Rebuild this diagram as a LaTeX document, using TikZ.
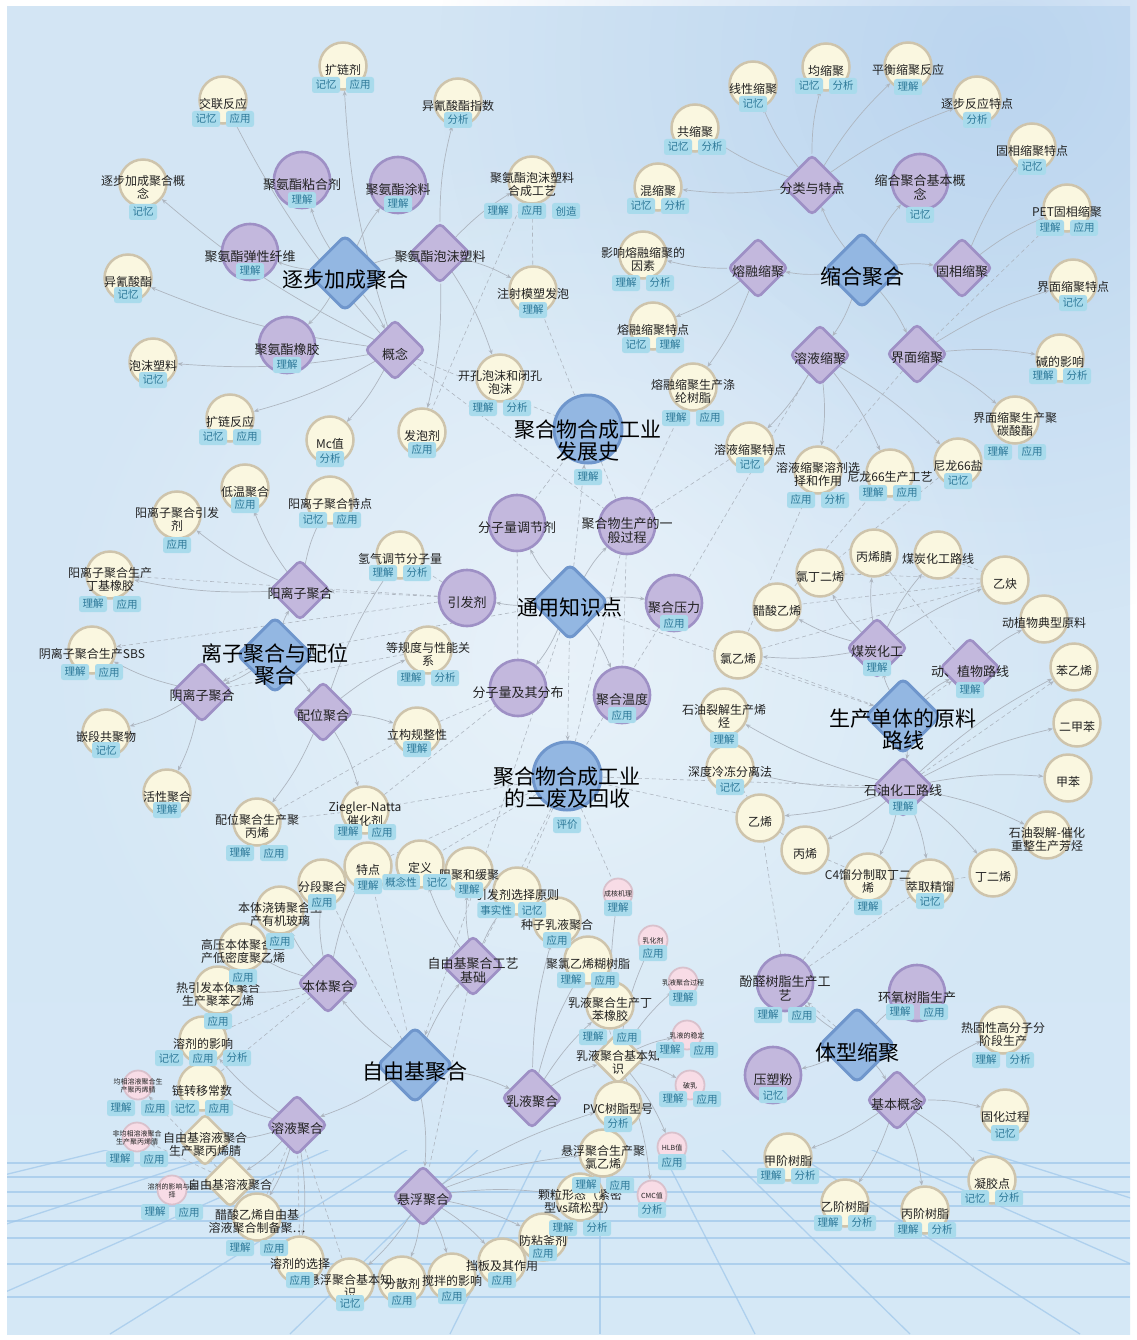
\documentclass[tikz,border=0pt]{standalone}
\usepackage{fontspec}
\newfontfamily\cjk{Noto Sans CJK SC}
\usetikzlibrary{calc, positioning}
\usetikzlibrary{arrows.meta}
\usetikzlibrary{shapes.geometric}
\usetikzlibrary{fadings}

\definecolor{leafcol}{HTML}{FAF7E0}
\definecolor{leafrim}{HTML}{CEC4AC}
\definecolor{purcol}{HTML}{C3B8DD}
\definecolor{purrim}{HTML}{9E90C5}
\definecolor{bluecol}{HTML}{93B7E2}
\definecolor{bluerim}{HTML}{6F96CC}
\definecolor{pinkcol}{HTML}{F8DCE6}
\definecolor{pinkrim}{HTML}{D9C1CC}
\definecolor{tagcol}{HTML}{A9DBEC}
\definecolor{tagtxt}{HTML}{2D7898}
\definecolor{txtcol}{HTML}{222222}
\definecolor{linkcol}{HTML}{AEB6C0}
\definecolor{bgtop}{HTML}{D3E5F4}
\definecolor{bgmid}{HTML}{E8F1FA}
\definecolor{bgbot}{HTML}{D5E8F6}
\definecolor{skyblue}{HTML}{B5D1EE}
\definecolor{gridcol}{HTML}{9EC6EA}

\tikzfading[name=glowfade, inner color=transparent!20, outer color=transparent!100]

\pgfdeclarelayer{bgpic}
\pgfdeclarelayer{edges}
\pgfdeclarelayer{front}
\pgfsetlayers{bgpic,edges,main,front}

\tikzset{
  leaf/.style={circle, fill=leafcol, draw=leafrim, line width=2.5pt, minimum size=47pt, inner sep=0pt},
  pcirc/.style={circle, fill=purcol, draw=purrim, line width=2.6pt, minimum size=56pt, inner sep=0pt},
  bcirc/.style={circle, fill=bluecol, draw=bluerim, line width=3pt, minimum size=68pt, inner sep=0pt},
  pinkc/.style={circle, fill=pinkcol, draw=pinkrim, line width=1.8pt, minimum size=29pt, inner sep=0pt},
  maindia/.style={diamond, fill=bluecol, draw=bluerim, line width=3pt, rounded corners=6pt, minimum size=76pt, inner sep=0pt},
  subdia/.style={diamond, fill=purcol, draw=purrim, line width=2.6pt, rounded corners=4pt, minimum size=60pt, inner sep=0pt},
  creamdia/.style={diamond, fill=leafcol, draw=leafrim, line width=2.5pt, rounded corners=4pt, minimum size=52pt, inner sep=0pt},
  lbl/.style={font=\cjk\fontsize{12}{13}\selectfont, text=txtcol, align=center, inner sep=0pt},
  sublbl/.style={lbl, font=\cjk\fontsize{13}{14}\selectfont},
  mainlbl/.style={lbl, font=\cjk\fontsize{21}{22}\selectfont, text=black},
  pinklbl/.style={lbl, font=\cjk\fontsize{7}{8}\selectfont},
  tagbox/.style={fill=tagcol, text=tagtxt, rounded corners=2.5pt, font=\cjk\fontsize{10.5}{11}\selectfont,
    minimum width=28pt, minimum height=16pt, inner xsep=3pt, inner ysep=0pt},
  link/.style={draw=linkcol, line width=0.7pt, -{Stealth[length=5pt, width=4pt]}},
  xlink/.style={draw=linkcol, line width=0.6pt, dash pattern=on 4pt off 3pt},
  xarr/.style={xlink, -{Stealth[length=5pt, width=4pt]}},
}

\begin{document}
\begin{tikzpicture}[x=1pt, y=-1pt]
\useasboundingbox (0,0) rectangle (1136,1340);

% name/x/y/label/label shift
\def\maindias{zbjc/345/273/逐步加成聚合/7, shjh/862/270/缩合聚合/7, lzpw/275/655/离子聚合与配位\\聚合/10,
  tyzs/570/602/通用知识点/6, scdt/903/716/生产单体的原料\\路线/13, zyjjh/415/1065/自由基聚合/7, txsj/857/1045/体型缩聚/8}
% name/x/y/label/tag shift/tags
\def\bigcircs{fzs/588/429/聚合物合成工业\\发展史/48/{理解}, sfhs/567/776/聚合物合成工业\\的三废及回收/49/{评价}}
\def\subdias{jazpm/440/253/聚氨酯泡沫塑料/0/{}, gn/395/350/概念/0/{}, flyd/812/185/分类与特点/0/{},
  rrsj/758/268/熔融缩聚/0/{}, gxsj/962/268/固相缩聚/0/{}, rysj/820/355/溶液缩聚/0/{}, jmsj/917/354/界面缩聚/0/{},
  yanglz/300/590/阳离子聚合/0/{}, yinlz/202/692/阴离子聚合/0/{}, pwjh/323/712/配位聚合/0/{},
  mthg/877/648/煤炭化工/20/{理解}, dzwlx/970/668/动、植物路线/22/{理解}, syhg/903/787/石油化工路线/20/{理解},
  btjh/328/983/本体聚合/0/{}, zyjgy/473/966/自由基聚合工艺\\基础/0/{}, ryjh/297/1125/溶液聚合/0/{},
  rujh/532/1098/乳液聚合/0/{}, xfjh/423/1196/悬浮聚合/0/{}, jbgn/897/1100/基本概念/0/{}}
\def\pcircs{jazzhj/302/180/聚氨酯粘合剂/20/{理解}, jaztl/398/185/聚氨酯涂料/19/{理解},
  jaztxxw/250/252/聚氨酯弹性纤维/19/{理解}, jazxj/287/345/聚氨酯橡胶/20/{理解},
  sjjbgn/920/182/缩合聚合基本概\\念/33/{记忆}, fzltj/517/523/分子量调节剂/0/{},
  jhscgc/627/526/聚合物生产的一\\般过程/0/{}, yfj/467/598/引发剂/0/{}, jhyl/674/603/聚合压力/20/{应用},
  fzl/518/688/分子量及其分布/0/{}, jhwd/622/695/聚合温度/20/{应用},
  fqszgy/785/983/酚醛树脂生产工\\艺/32/{理解,应用}, hyszsc/917/993/环氧树脂生产/19/{理解,应用},
  ysf/773/1075/压塑粉/20/{记忆}}
\def\leafs{kuolj/343/66/扩链剂/19/{记忆,应用}, jlfy/223/100/交联反应/19/{记忆,应用},
  zbgn/143/183/逐步加成聚合概\\念/29/{记忆}, yqsz/128/278/异氰酸酯/17/{记忆},
  yqszzs/458/102/异氰酸酯指数/18/{分析}, jazpmgy/532/180/聚氨酯泡沫塑料\\合成工艺/31/{理解,应用,创造},
  zsmsfp/533/290/注射模塑发泡/20/{理解}, pmsl/153/362/泡沫塑料/18/{记忆},
  kuolfy/230/418/扩链反应/19/{记忆,应用}, mcz/330/440/Mc值/19/{分析},
  kkpm/500/378/开孔泡沫和闭孔\\泡沫/30/{理解,分析}, fpj/422/432/发泡剂/18/{应用},
  xxsj/753/85/线性缩聚/19/{记忆}, jsj/826/67/均缩聚/19/{记忆,分析}, phsj/908/66/平衡缩聚反应/21/{理解},
  zbfytd/977/100/逐步反应特点/20/{分析}, gxtd/1032/147/固相缩聚特点/20/{记忆},
  petgx/1067/208/PET固相缩聚/20/{理解,应用}, gsj/695/128/共缩聚/19/{记忆,分析},
  hsj/658/187/混缩聚/19/{记忆,分析}, yxrr/643/255/影响熔融缩聚的\\因素/28/{理解,分析},
  rrtd/653/326/熔融缩聚特点/19/{记忆,理解}, jmtd/1073/283/界面缩聚特点/20/{记忆},
  jdyx/1060/358/碱的影响/18/{理解,分析}, dlsz/693/387/熔融缩聚生产涤\\纶树脂/31/{理解,应用},
  jmjtsz/1015/420/界面缩聚生产聚\\碳酸酯/32/{理解,应用}, rytd/750/446/溶液缩聚特点/19/{记忆},
  ryrj/818/470/溶液缩聚溶剂选\\择和作用/30/{应用,分析}, nl66/890/473/尼龙66生产工艺/20/{理解,应用},
  nl66y/958/462/尼龙66盐/19/{记忆}, dwjh/245/488/低温聚合/17/{应用},
  yltd/330/500/阳离子聚合特点/20/{记忆,应用}, ylyfj/177/515/阳离子聚合引发\\剂/30/{应用},
  djxj/110/575/阳离子聚合生产\\丁基橡胶/29/{理解,应用}, sbs/92/650/阴离子聚合生产SBS/22/{理解,应用},
  qtgzl/400/555/氢气调节分子量/18/{理解,分析}, dgd/428/650/等规度与性能关\\系/28/{理解,分析},
  qdgjw/106/733/嵌段共聚物/17/{记忆}, hxjh/167/793/活性聚合/17/{理解}, lggz/417/731/立构规整性/18/{理解},
  zn/365/810/Ziegler-Natta\\催化剂/22/{理解,应用}, pwjbx/257/822/配位聚合生产聚\\丙烯/31/{理解,应用},
  bxj/874/553/丙烯腈/0/{}, mthglx/938/555/煤炭化工路线/0/{}, ldes/820/573/氯丁二烯/0/{},
  yq/1005/580/乙炔/0/{}, csyx/777/607/醋酸乙烯/0/{}, dzwdx/1044/619/动植物典型原料/0/{},
  lyx/738/655/氯乙烯/0/{}, byx/1074/667/苯乙烯/0/{}, sylj/724/712/石油裂解生产烯\\烃/28/{理解},
  sdld/730/768/深度冷冻分离法/19/{记忆}, yx/760/818/乙烯/0/{}, ejb/1077/723/二甲苯/0/{},
  jb/1068/778/甲苯/0/{}, bx/805/850/丙烯/0/{}, sylj2/1047/835/石油裂解-催化\\重整生产芳烃/0/{},
  c4/868/877/C4馏分制取丁二\\烯/30/{理解}, cqjl/930/883/萃取精馏/18/{记忆}, ded/993/873/丁二烯/0/{},
  td/368/866/特点/20/{理解}, fdjh/322/883/分段聚合/19/{应用},
  yjbl/280/910/本体浇铸聚合生\\产有机玻璃/31/{应用}, gyyj/243/947/高压本体聚合生\\产低密度聚乙烯/30/{应用},
  rybx/218/990/热引发本体聚合\\生产聚苯乙烯/31/{应用}, dy/420/864/定义/18/{},
  zjhj/469/871/阻聚和缓聚/19/{理解}, yfjxz/517/891/引发剂选择原则/19/{},
  zzrj/557/921/种子乳液聚合/19/{应用}, plyx/588/960/聚氯乙烯糊树脂/20/{理解,应用},
  rjdb/610/1005/乳液聚合生产丁\\苯橡胶/32/{理解,应用}, pvc/618/1105/PVC树脂型号/19/{分析},
  xfpvc/603/1153/悬浮聚合生产聚\\氯乙烯/32/{理解,应用}, klxt/580/1197/颗粒形态（紧密\\型vs疏松型）/31/{理解,分析},
  fnfj/543/1237/防粘釜剂/16/{应用}, dbj/502/1262/挡板及其作用/18/{应用}, jbyx/452/1277/搅拌的影响/19/{应用},
  fsj/402/1280/分散剂/20/{应用}, xfjbzs/350/1282/悬浮聚合基本知\\识/21/{记忆}, rjxz/300/1260/溶剂的选择/20/{应用},
  csyxzyj/257/1217/醋酸乙烯自由基\\溶液聚合制备聚\ldots/31/{理解,应用},
  rjyx/203/1040/溶剂的影响/18/{记忆,应用,分析}, lzycs/202/1087/链转移常数/21/{记忆,应用},
  rgxgfz/1003/1030/热固性高分子分\\阶段生产/30/{理解,分析}, ghgc/1005/1113/固化过程/20/{记忆},
  jjsz/788/1157/甲阶树脂/19/{理解,分析}, njd/992/1180/凝胶点/18/{记忆,分析},
  yjsz/845/1203/乙阶树脂/20/{理解,分析}, bjsz/925/1210/丙阶树脂/20/{理解,分析}}
\def\pinks{hxjl/618/893/成核机理/15/{理解}, rhj/653/940/乳化剂/13/{应用}, rjgc/683/982/乳液聚合过程/16/{理解},
  rywd/687/1035/乳液的稳定/15/{理解,应用}, pr/690/1085/破乳/14/{理解,应用}, hlb/672/1147/HLB值/15/{应用},
  cmc/652/1195/CMC值/15/{分析}, jxpan/138/1085/均相溶液聚合生\\产聚丙烯腈/23/{理解,应用},
  fjxpan/137/1137/非均相溶液聚合\\生产聚丙烯腈/22/{理解,应用}, rjyxxz/172/1190/溶剂的影响与选\\择/22/{理解,应用}}
\def\creamdias{zyjrpan/205/1140/自由基溶液聚合\\生产聚丙烯腈/0/{}, zyjry/230/1181/自由基溶液聚合/0/{},
  rjjbzs/618/1058/乳液聚合基本知\\识/0/{}}

\def\tagrow#1#2#3{%
  \foreach \tg [count=\k] in #3 {\xdef\ntg{\k}}%
  \foreach \tg [count=\k] in #3 {%
    \if\relax\detokenize\expandafter{\tg}\relax\else
      \node[tagbox] (#1-t\k) at ($(#1)+({(\k-(\ntg+1)/2)*34},#2)$) {\tg};
    \fi}%
}

\begin{pgfonlayer}{bgpic}
\fill[white] (0,0) rectangle (1136,1340);
\shade[top color=bgtop, middle color=bgmid, bottom color=bgbot] (7,7) rectangle (1130,1334);
\fill[skyblue, path fading=glowfade] (1000,60) circle (560);
\fill[white, opacity=.6, path fading=glowfade] (560,660) circle (520);
\begin{scope}
\clip (7,1150) rectangle (1130,1334);
\foreach \gy in {1163,1177,1192,1206,1221,1238,1264,1297}
  \draw[gridcol, line width=1.3pt, opacity=.7] (7,\gy) -- (1130,\gy);
\foreach \bx in {-1100,-650,-330,-90,110,290,450,600,755,910,1080,1290,1560,1950}
  \draw[gridcol, line width=1.3pt, opacity=.7] (600,1030) -- (\bx,1334);
\end{scope}
\end{pgfonlayer}

\foreach \nm/\x/\y/\lab/\ly in \maindias {\node[maindia] (\nm) at (\x,\y) {};}
\foreach \nm/\x/\y/\lab/\dy/\tgs in \bigcircs {\node[bcirc] (\nm) at (\x,\y) {};}
\foreach \nm/\x/\y/\lab/\dy/\tgs in \subdias {\node[subdia] (\nm) at (\x,\y) {};}
\foreach \nm/\x/\y/\lab/\dy/\tgs in \pcircs {\node[pcirc] (\nm) at (\x,\y) {};}
\foreach \nm/\x/\y/\lab/\dy/\tgs in \creamdias {\node[creamdia] (\nm) at (\x,\y) {};}
\foreach \nm/\x/\y/\lab/\dy/\tgs in \leafs {\node[leaf] (\nm) at (\x,\y) {};}
\foreach \nm/\x/\y/\lab/\dy/\tgs in \pinks {\node[pinkc] (\nm) at (\x,\y) {};}

\begin{pgfonlayer}{front}
\foreach \nm/\x/\y/\lab/\ly in \maindias {\node[mainlbl] (\nm-l) at ($(\nm)+(0,\ly)$) {\lab};}
\foreach \nm/\x/\y/\lab/\dy/\tgs in \bigcircs {\node[mainlbl] (\nm-l) at ($(\nm)+(0,12)$) {\lab};}
\foreach \nm/\x/\y/\lab/\dy/\tgs in \subdias {\node[sublbl] (\nm-l) at ($(\nm)+(0,4)$) {\lab};}
\foreach \nm/\x/\y/\lab/\dy/\tgs in \pcircs {\node[sublbl] (\nm-l) at ($(\nm)+(0,5)$) {\lab};}
\foreach \nm/\x/\y/\lab/\dy/\tgs in \creamdias {\node[lbl] (\nm-l) at ($(\nm)+(0,4)$) {\lab};}
\foreach \nm/\x/\y/\lab/\dy/\tgs in \leafs {\node[lbl] (\nm-l) at ($(\nm)+(0,4)$) {\lab};}
\foreach \nm/\x/\y/\lab/\dy/\tgs in \pinks {\node[pinklbl] (\nm-l) at ($(\nm)+(0,1)$) {\lab};}

\foreach \nm/\x/\y/\lab/\dy/\tgs in \bigcircs {\tagrow{\nm}{\dy}{\tgs}}
\foreach \nm/\x/\y/\lab/\dy/\tgs in \subdias {\tagrow{\nm}{\dy}{\tgs}}
\foreach \nm/\x/\y/\lab/\dy/\tgs in \pcircs {\tagrow{\nm}{\dy}{\tgs}}
\foreach \nm/\x/\y/\lab/\dy/\tgs in \leafs {\tagrow{\nm}{\dy}{\tgs}}
\foreach \nm/\x/\y/\lab/\dy/\tgs in \pinks {\tagrow{\nm}{\dy}{\tgs}}
\node[tagbox] (dy-t1) at ($(dy)+(-19,18)$) {概念性};
\node[tagbox, right=3pt of dy-t1] (dy-t2) {记忆};
\node[tagbox] (yfjxz-t1) at ($(yfjxz)+(-21,19)$) {事实性};
\node[tagbox, right=3pt of yfjxz-t1] (yfjxz-t2) {记忆};
\end{pgfonlayer}

\begin{pgfonlayer}{edges}
\foreach \a/\b in {zbjc/jazzhj, zbjc/jaztl, zbjc/jaztxxw, zbjc/jazpm, zbjc/jazxj, zbjc/gn,
  gn/jlfy, gn/kuolj, gn/zbgn, gn/yqsz, gn/pmsl, gn/kuolfy, gn/mcz,
  jazpm/yqszzs, jazpm/jazpmgy, jazpm/zsmsfp, jazpm/kkpm, jazpm/fpj,
  shjh/flyd, shjh/sjjbgn, shjh/rrsj, shjh/gxsj, shjh/rysj, shjh/jmsj,
  flyd/xxsj, flyd/jsj, flyd/phsj, flyd/zbfytd, flyd/gsj, flyd/hsj,
  rrsj/yxrr, rrsj/rrtd, rrsj/dlsz, gxsj/gxtd, gxsj/petgx, jmsj/jmtd, jmsj/jdyx, jmsj/jmjtsz,
  rysj/rytd, rysj/ryrj, rysj/nl66, rysj/nl66y,
  lzpw/yanglz, lzpw/yinlz, lzpw/pwjh,
  yanglz/dwjh, yanglz/yltd, yanglz/ylyfj, yanglz/djxj, yinlz/sbs, yinlz/qdgjw, yinlz/hxjh,
  pwjh/lggz, pwjh/zn, pwjh/pwjbx, pwjh/qtgzl, pwjh/dgd,
  tyzs/fzltj, tyzs/jhscgc, tyzs/yfj, tyzs/jhyl, tyzs/fzl, tyzs/jhwd,
  scdt/mthg, scdt/dzwlx, scdt/syhg,
  mthg/bxj, mthg/mthglx, mthg/ldes, mthg/yq, mthg/csyx, mthg/lyx, dzwlx/dzwdx,
  syhg/byx, syhg/ejb, syhg/jb, syhg/sylj2, syhg/ded, syhg/cqjl, syhg/c4, syhg/bx, syhg/yx, syhg/sdld, syhg/sylj,
  zyjjh/btjh, zyjjh/zyjgy, zyjjh/ryjh, zyjjh/rujh, zyjjh/xfjh,
  btjh/td, btjh/fdjh, btjh/yjbl, btjh/gyyj, btjh/rybx, zyjgy/dy, zyjgy/zjhj, zyjgy/yfjxz,
  ryjh/rjyx, ryjh/lzycs, ryjh/zyjrpan, ryjh/zyjry, ryjh/csyxzyj, ryjh/rjxz,
  rujh/rjdb, rujh/rjjbzs, rujh/zzrj, rujh/plyx,
  rjjbzs/hxjl, rjjbzs/rhj, rjjbzs/rjgc, rjjbzs/rywd, rjjbzs/pr, rjjbzs/hlb, rjjbzs/cmc,
  xfjh/pvc, xfjh/xfpvc, xfjh/klxt, xfjh/fnfj, xfjh/dbj, xfjh/jbyx, xfjh/fsj, xfjh/xfjbzs,
  txsj/fqszgy, txsj/hyszsc, txsj/ysf, txsj/jbgn,
  jbgn/rgxgfz, jbgn/ghgc, jbgn/njd, jbgn/bjsz, jbgn/yjsz, jbgn/jjsz}
  \draw[link] (\a) to[bend left=7] (\b);
\foreach \a/\b in {jazpmgy/zsmsfp, jazpmgy/fpj, zsmsfp/fzs, gn/jhscgc, gn/fzs, dlsz/jhscgc, rytd/jhscgc,
  fzs/jhscgc, fzs/fzltj, petgx/jmsj, jmsj/ryrj, ryrj/lyx, nl66/csyx, nl66y/ldes, rysj/jhyl,
  yfj/qtgzl, fzltj/fzl, jhscgc/sfhs, jhscgc/jhwd, jhyl/sfhs, zn/fzl, pwjbx/zn, pwjbx/lggz, dgd/yinlz, lggz/fzl,
  yq/ldes, yq/csyx, mthglx/yq, bxj/dzwlx, yq/lyx, sylj/sdld, sdld/yx, yx/bx, bx/c4, c4/cqjl, cqjl/ded,
  syhg/sfhs, scdt/lyx, fqszgy/c4, fqszgy/cqjl, fqszgy/yx, sfhs/dy, sfhs/td, sfhs/zyjgy, sfhs/yfjxz,
  sfhs/hxjl, sfhs/zn, sfhs/yx, rjyx/btjh, lzycs/btjh, csyxzyj/ryjh, rjxz/ryjh, xfjbzs/ryjh,
  plyx/rjjbzs, zzrj/rjdb, zyjgy/xfjh, td/zyjjh, fdjh/zyjjh}
  \draw[xlink] (\a) -- (\b);
\foreach \a/\b in {tyzs/lzpw, tyzs/scdt, tyzs/zyjjh, tyzs/fzs, tyzs/sfhs, yfj/djxj, yfj/sbs, yfj/yanglz,
  zyjry/jxpan, zyjry/fjxpan, zyjry/rjyxxz, txsj/fqszgy, scdt/dzwlx, syhg/byx, lzpw/yinlz}
  \draw[xarr] (\a) -- (\b);
\end{pgfonlayer}
\end{tikzpicture}
\end{document}
